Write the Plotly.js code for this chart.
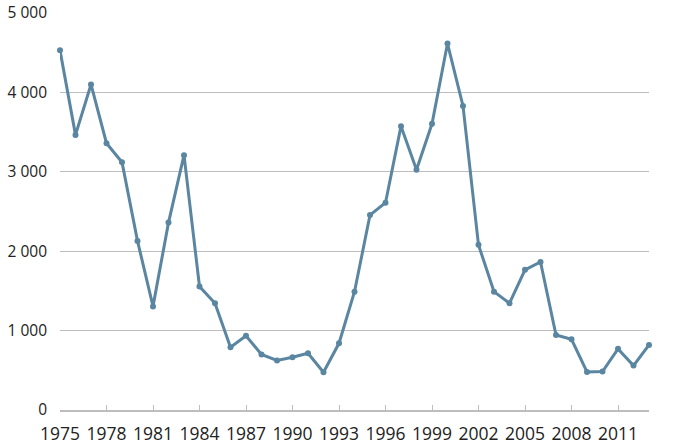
<!DOCTYPE html>
<html>
<head>
<meta charset="utf-8">
<script src="https://cdn.plot.ly/plotly-3.0.1.min.js"></script>
<style>html,body{margin:0;padding:0;background:#fff}#chart{width:679px;height:445px}</style>
</head>
<body>
<div id="chart"></div>
<script>
const years = [1975,1976,1977,1978,1979,1980,1981,1982,1983,1984,1985,1986,1987,1988,1989,1990,1991,1992,1993,1994,1995,1996,1997,1998,1999,2000,2001,2002,2003,2004,2005,2006,2007,2008,2009,2010,2011,2012,2013];
const values = [4530,3465,4100,3360,3120,2130,1305,2360,3210,1555,1345,790,935,700,625,665,715,475,840,1490,2455,2610,3575,3025,3605,4615,3830,2080,1490,1345,1765,1865,945,890,480,485,770,560,820];
const xTicks = [1975,1978,1981,1984,1987,1990,1993,1996,1999,2002,2005,2008,2011];
const yTicks = [0,1000,2000,3000,4000,5000];

const trace = {
  x: years, y: values, type: 'scatter', mode: 'lines+markers',
  line: {color: '#5a86a1', width: 3},
  marker: {color: '#5a86a1', size: 6},
  cliponaxis: false,
  hoverinfo: 'x+y'
};
const layout = {
  width: 679, height: 445,
  margin: {l: 60, r: 30, t: 13, b: 35},
  paper_bgcolor: '#fff', plot_bgcolor: '#fff',
  separators: ', ',
  showlegend: false,
  font: {family: '"Open Sans", sans-serif', color: '#222'},
  xaxis: {
    range: [1975, 2013], tickvals: xTicks, ticktext: xTicks.map(String),
    showgrid: false, zeroline: false,
    showline: true, linecolor: '#bdbdbd', linewidth: 1.5,
    ticks: 'inside', ticklen: 5, tickcolor: '#bdbdbd', tickwidth: 1,
    ticklabelstandoff: 7,
    tickfont: {size: 17.5, color: '#222'}
  },
  yaxis: {
    range: [0, 5000], tickvals: yTicks, tickformat: ',d',
    showgrid: true, gridcolor: '#bdbdbd', gridwidth: 1,
    zeroline: false, showline: false, ticks: '',
    ticklabelstandoff: 12,
    tickfont: {size: 15.5, color: '#222'}
  }
};
Plotly.newPlot('chart', [trace], layout, {displayModeBar: false, staticPlot: true});
</script>
</body>
</html>
